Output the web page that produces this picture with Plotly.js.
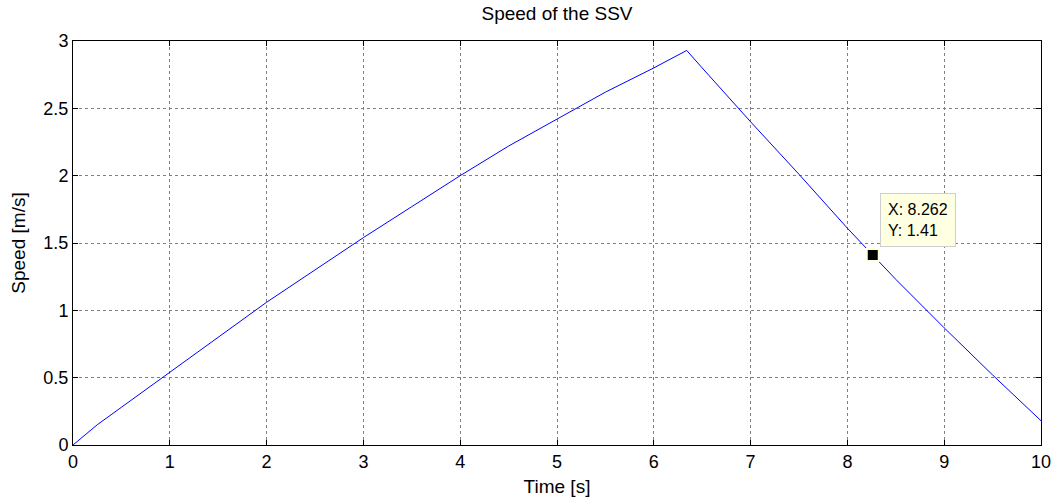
<!DOCTYPE html>
<html><head><meta charset="utf-8">
<script src="https://cdn.plot.ly/plotly-3.0.1.min.js"></script>
<style>body{margin:0;background:#fff}#c{width:1058px;height:503px}</style>
</head><body><div id="c"></div>
<script>
const timeS = [0, 0.1, 0.25, 0.5, 1, 1.5, 2, 2.5, 3, 3.5, 4, 4.5, 5, 5.5, 6, 6.34, 6.5, 7, 7.5, 8, 8.262, 8.5, 9, 9.5, 10];
const speed = [0, 0.06, 0.15, 0.28, 0.54, 0.8, 1.06, 1.3, 1.54, 1.77, 2.0, 2.22, 2.42, 2.62, 2.8, 2.93, 2.8, 2.4, 2.01, 1.61, 1.41, 1.23, 0.87, 0.52, 0.18];
const tipX = [8.262];
const tipY = [1.41];
const xTicks = [0,1,2,3,4,5,6,7,8,9,10];
const yTicks = [0,0.5,1,1.5,2,2.5,3];

const FONT = 'Liberation Sans, Arial, sans-serif';
const axisCommon = {
  showline: true, linecolor: '#000', linewidth: 1, mirror: 'allticks',
  ticks: 'inside', ticklen: 5, tickcolor: '#000',
  showgrid: true, gridcolor: '#7f7f7f', griddash: 'dot', gridwidth: 1,
  zeroline: false, tickfont: {family: FONT, size: 18, color: '#000'}
};

const data = [
  {x: timeS, y: speed, type: 'scatter', mode: 'lines', line: {color: '#0000ff', width: 1}, hoverinfo: 'skip'},
  {x: tipX, y: tipY, type: 'scatter', mode: 'markers',
   marker: {symbol: 'square', size: 12, color: '#000', line: {color: '#ffffe1', width: 2}}, hoverinfo: 'skip'}
];

const layout = {
  width: 1058, height: 503,
  margin: {l: 73, r: 17, t: 41, b: 58},
  paper_bgcolor: '#fff', plot_bgcolor: '#fff',
  showlegend: false,
  title: {text: 'Speed of the SSV', font: {family: FONT, size: 19, color: '#000'}, x: 0.5, xanchor: 'center', xref: 'paper', yref: 'container', y: 0.974, yanchor: 'middle'},
  xaxis: Object.assign({}, axisCommon, {range: [0, 10], tickvals: xTicks, ticktext: xTicks.map(String),
    title: {text: 'Time [s]', font: {family: FONT, size: 19, color: '#000'}, standoff: 9}}),
  yaxis: Object.assign({}, axisCommon, {range: [0, 3], tickvals: yTicks, ticktext: yTicks.map(String),
    title: {text: 'Speed [m/s]', font: {family: FONT, size: 19, color: '#000'}, standoff: 12}}),
  annotations: [{
    x: tipX[0], y: tipY[0], xref: 'x', yref: 'y',
    text: 'X: ' + tipX[0] + '<br>Y: ' + tipY[0],
    showarrow: false, xanchor: 'left', yanchor: 'bottom', xshift: 7, yshift: 8,
    align: 'left', bgcolor: '#ffffe1', bordercolor: '#cfcfcf', borderwidth: 1, borderpad: 7,
    font: {family: FONT, size: 16, color: '#000'}
  }]
};
Plotly.newPlot('c', data, layout, {staticPlot: true});
</script></body></html>
